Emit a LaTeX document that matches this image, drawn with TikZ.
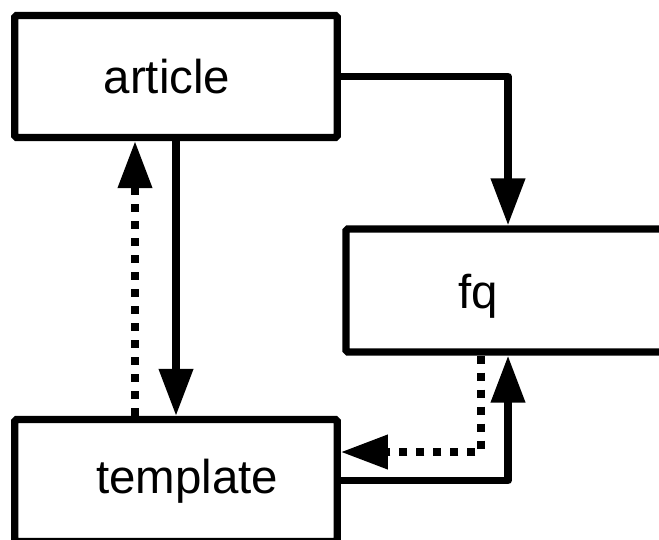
\documentclass[tikz,border=0pt]{standalone}
\usepackage{fontspec}
\setmainfont{Liberation Sans}
\usepackage{tikz}
\usetikzlibrary{arrows.meta,positioning}
\definecolor{inkblack}{RGB}{0,0,0}
\tikzset{
  >={Triangle[length=4.7mm,width=3.3mm]},
  flow/.style={-{Triangle[length=4.7mm,width=3.3mm]}, line width=2.1pt, draw=inkblack, line join=round},
  dotflow/.style={flow, dash pattern=on 0.8mm off 0.9mm},
  box/.style={
    draw=inkblack,
    line width=2.1pt,
    rounded corners=0.5pt,
    fill=white,
    minimum width=3.225cm,
    minimum height=1.22cm,
    inner sep=0pt
  },
  boxlabel/.style={anchor=base, font=\fontsize{13.5pt}{16pt}\selectfont, inner sep=0pt}
}
\begin{document}
\begin{tikzpicture}
\useasboundingbox (0,0) rectangle (6.59,5.39);
\node[box] (article) at (1.76,4.625) {};
\node[box] (template) at (1.76,0.585) {};
\node[box,minimum width=3.24cm,minimum height=1.23cm] (fq) at (5.08,2.485) {};
\node[boxlabel] (articletext) at (1.67,4.46) {article};
\node[boxlabel] (templatetext) at (1.87,0.457) {template};
\node[boxlabel] (fqtext) at (4.785,2.31) {fq};
% solid links
\draw[flow] (article.east) -| (fq.north);
\draw[flow] (article.south) -- (template.north);
\draw[flow] (template.east) -| (fq.south);
% dotted links back
\draw[dotflow] ([xshift=-0.41cm]template.north) -- ([xshift=-0.41cm]article.south);
\draw[dotflow] ([xshift=-0.27cm]fq.south) |- ([yshift=0.285cm]template.east);
\end{tikzpicture}
\end{document}
